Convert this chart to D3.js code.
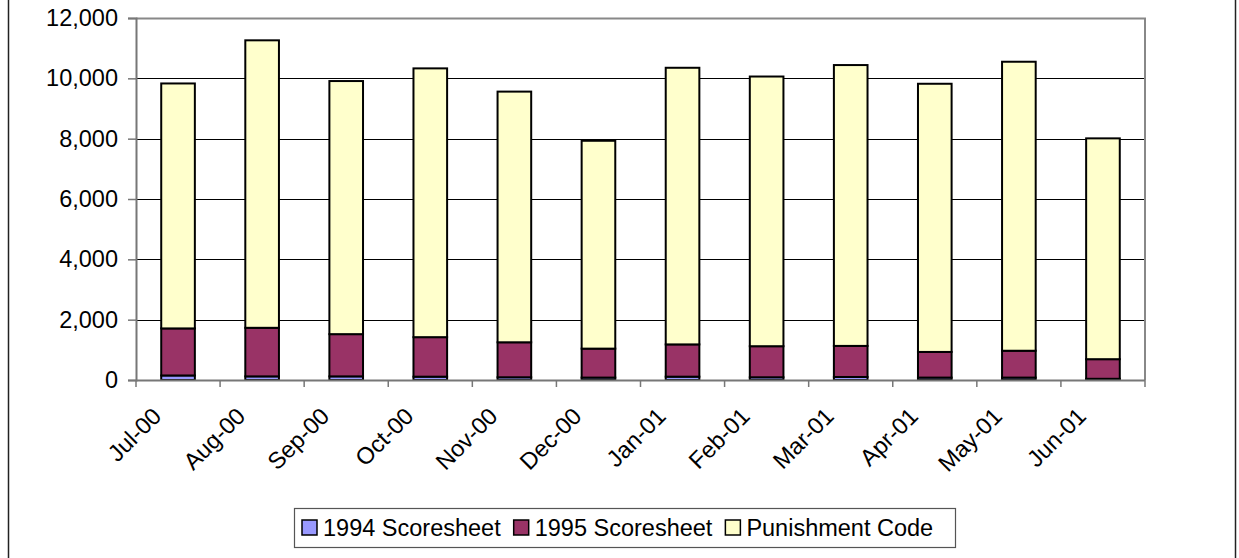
<!DOCTYPE html>
<html>
<head>
<meta charset="utf-8">
<script src="https://cdn.jsdelivr.net/npm/d3@7"></script>
<style>
  html, body { margin: 0; padding: 0; background: #fff; }
  svg { display: block; font-family: "Liberation Sans", Arial, sans-serif; }
</style>
</head>
<body>
<svg id="chart" width="1239" height="558"></svg>
<script>
const categories = ["Jul-00","Aug-00","Sep-00","Oct-00","Nov-00","Dec-00","Jan-01","Feb-01","Mar-01","Apr-01","May-01","Jun-01"];
const seriesNames = ["1994 Scoresheet","1995 Scoresheet","Punishment Code"];
const s1994 = [150, 120, 120, 110, 90, 80, 110, 90, 100, 80, 80, 40];
const s1995 = [1560, 1610, 1400, 1310, 1160, 960, 1070, 1030, 1030, 850, 890, 650];
const sPunish = [8120, 9530, 8390, 8910, 8310, 6890, 9170, 8940, 9310, 8890, 9580, 7320];
const yTicks = [0, 2000, 4000, 6000, 8000, 10000, 12000];
const colors = ["#9999FF", "#993366", "#FFFFCC"];

const svg = d3.select("#chart");
const W = 1239, H = 558;
const plot = {left: 136, right: 1145, top: 18, bottom: 380};
const fontSize = 23.5;

// outer chart border
svg.append("rect").attr("x", 8.5).attr("y", -2).attr("width", 1227).attr("height", H + 4)
  .attr("fill", "#fff").attr("stroke", "#222").attr("stroke-width", 1.5);

const x = d3.scaleBand().domain(categories).range([plot.left, plot.right]).paddingInner(0.6).paddingOuter(0.3);
const xEdge = d3.scaleBand().domain(categories).range([plot.left, plot.right]).padding(0);
const y = d3.scaleLinear().domain([0, 12000]).range([plot.bottom, plot.top]);

// gridlines
svg.append("g").selectAll("line").data(yTicks.filter(t => t > 0 && t < 12000)).join("line")
  .attr("x1", plot.left).attr("x2", plot.right)
  .attr("y1", d => Math.round(y(d)) + 0.5).attr("y2", d => Math.round(y(d)) + 0.5)
  .attr("stroke", "#000").attr("stroke-width", 1);

// plot area top/right border
svg.append("path")
  .attr("d", `M${plot.left},${plot.top + 0.5}H${plot.right}V${plot.bottom}`)
  .attr("fill", "none").attr("stroke", "#888").attr("stroke-width", 2);

// stacked data
const rows = categories.map((c, i) => ({cat: c, a: s1994[i], b: s1995[i], c: sPunish[i]}));
const stack = d3.stack().keys(["a", "b", "c"]);
const layers = stack(rows);

svg.append("g").selectAll("g").data(layers).join("g")
  .attr("fill", (d, i) => colors[i])
  .selectAll("rect").data(d => d).join("rect")
  .attr("x", d => x(d.data.cat))
  .attr("width", x.bandwidth())
  .attr("y", d => y(d[1]))
  .attr("height", d => y(d[0]) - y(d[1]))
  .attr("stroke", "#000").attr("stroke-width", 2);

// y axis
const yAxis = svg.append("g").attr("transform", `translate(${plot.left},0)`)
  .call(d3.axisLeft(y).tickValues(yTicks).tickSize(8).tickPadding(10).tickFormat(d3.format(",")));
yAxis.select(".domain").attr("stroke", "#777").attr("stroke-width", 2);
yAxis.selectAll(".tick line").attr("stroke", "#777").attr("stroke-width", 1.5);
yAxis.selectAll("text").attr("font-size", fontSize).attr("fill", "#000")
  .attr("font-family", "Liberation Sans, Arial, sans-serif");

// x axis line and ticks at category boundaries
const xg = svg.append("g");
xg.append("line").attr("x1", plot.left).attr("x2", plot.right)
  .attr("y1", plot.bottom + 0.5).attr("y2", plot.bottom + 0.5)
  .attr("stroke", "#777").attr("stroke-width", 2);
const edges = categories.map(c => xEdge(c)).concat([plot.right]);
xg.selectAll("line.tk").data(edges).join("line").attr("class", "tk")
  .attr("x1", d => d).attr("x2", d => d)
  .attr("y1", plot.bottom).attr("y2", plot.bottom + 7)
  .attr("stroke", "#777").attr("stroke-width", 1.5);
xg.selectAll("text").data(categories).join("text")
  .attr("transform", d => `translate(${x(d) + x.bandwidth() / 2 - 27},${plot.bottom + 26}) rotate(-45)`)
  .attr("text-anchor", "end")
  .attr("dy", "0.7em")
  .attr("font-size", fontSize)
  .text(d => d);

// legend
const leg = svg.append("g");
leg.append("rect").attr("x", 294.5).attr("y", 508.5).attr("width", 661).attr("height", 39)
  .attr("fill", "#fff").attr("stroke", "#555").attr("stroke-width", 1.2);
let lx = 302;
seriesNames.forEach((name, i) => {
  leg.append("rect").attr("x", lx).attr("y", 520).attr("width", 15).attr("height", 15)
    .attr("fill", colors[i]).attr("stroke", "#000").attr("stroke-width", 1.5);
  const t = leg.append("text").attr("x", lx + 21).attr("y", 536)
    .attr("font-size", fontSize).text(name);
  lx += 21 + t.node().getComputedTextLength() + 13;
});
</script>
</body>
</html>
